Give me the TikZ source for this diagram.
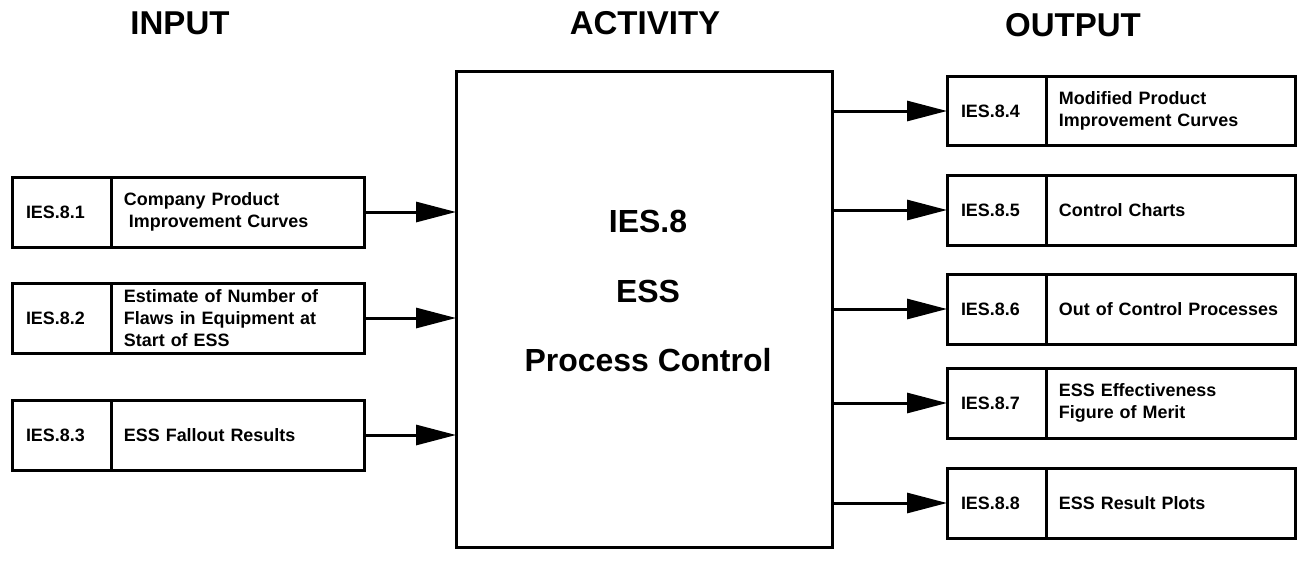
\documentclass[tikz,border=0pt]{standalone}
\usepackage{fontspec}
\setmainfont{Liberation Sans}
\usetikzlibrary{arrows.meta,positioning}

\newcommand{\cellfont}{\fontsize{10.2}{12.5}\selectfont\bfseries}
\newcommand{\headfont}{\fontsize{18.8}{22}\selectfont\bfseries}

\begin{document}
\begin{tikzpicture}[x=0.02cm,y=-0.02cm,
  cell/.style={draw,line width=0.06cm,outer sep=0pt,inner ysep=2pt,minimum height=1.4cm,font=\cellfont},
  idcell/.style={cell,inner xsep=0.28cm,text width=1.44cm,align=left},
  intxt/.style={cell,inner xsep=0.24cm,text width=4.58cm,align=left},
  outtxt/.style={cell,inner xsep=0.24cm,text width=4.5cm,align=left},
  flow/.style={line width=0.06cm,-{Triangle[length=0.8cm,width=0.4cm]}}]
  \useasboundingbox (0,0) rectangle (1299,562);
  \node[font=\headfont] (hin) at (180,23) {INPUT};
  \node[font=\headfont] (hact) at (645,23) {ACTIVITY};
  \node[font=\headfont] (hout) at (1073,25) {OUTPUT};
  \node[draw,line width=0.06cm,outer sep=0pt,minimum width=7.54cm,minimum height=9.54cm] (act) at (644.5,309.5) {};
  \node[align=center,font=\fontsize{18.2}{39.3}\selectfont\bfseries] (actlbl) at (648,291) {IES.8\\ESS\\Process Control};
  \foreach \n/\y/\txt in {1/212/{Company Product\\\hspace*{0.1cm}Improvement Curves},
      2/318/{Estimate of Number of\\Flaws in Equipment at\\Start of ESS},
      3/435/{ESS Fallout Results}}{
    \node[idcell] (i\n) at (62,\y) {IES.8.\n};
    \node[intxt,right=0pt of i\n] (it\n) {\txt};
    \draw[flow] (it\n.east) -- (act.west |- it\n.east);
  }
  \foreach \n/\y/\txt in {4/111/{Modified Product\\Improvement Curves},
      5/210/{Control Charts},
      6/309/{Out of Control Processes},
      7/403/{ESS Effectiveness\\Figure of Merit},
      8/503/{ESS Result Plots}}{
    \node[idcell] (o\n) at (997,\y) {IES.8.\n};
    \node[outtxt,right=0pt of o\n] (ot\n) {\txt};
    \draw[flow] (act.east |- o\n.west) -- (o\n.west);
  }
\end{tikzpicture}
\end{document}
